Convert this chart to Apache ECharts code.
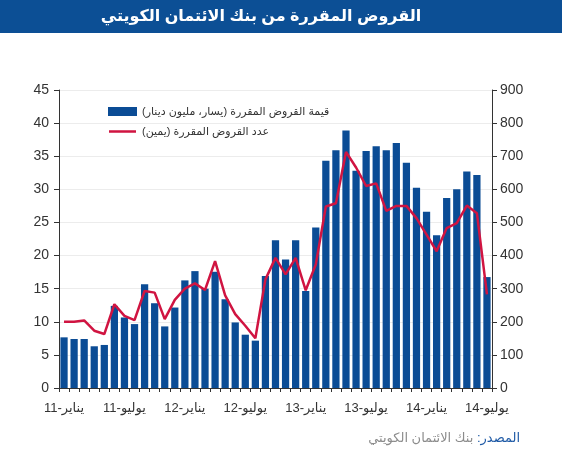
<!DOCTYPE html>
<html>
<head>
<meta charset="utf-8">
<script src="https://cdn.jsdelivr.net/npm/echarts@6/dist/echarts.min.js"></script>
<style>
html,body{margin:0;padding:0;background:#fff;}
#c{width:562px;height:450px;direction:rtl;}
</style>
</head>
<body>
<div id="c"></div>
<script>
var monthNames = ["يناير","فبراير","مارس","أبريل","مايو","يونيو","يوليو","أغسطس","سبتمبر","أكتوبر","نوفمبر","ديسمبر"];
var categories = [];
for (var y = 11; y <= 14; y++) {
  for (var m = 0; m < 12; m++) {
    if (y === 14 && m > 6) break;
    categories.push(monthNames[m] + "-" + y);
  }
}
var loanValue = [7.65,7.4,7.4,6.3,6.5,12.4,10.65,9.65,15.65,12.8,9.3,12.15,16.25,17.65,15.0,17.55,13.4,9.9,8.05,7.15,16.9,22.3,19.4,22.3,14.65,24.25,34.3,35.9,38.9,32.8,35.8,36.5,35.9,37.0,34.0,30.25,26.6,23.05,28.7,30.0,32.7,32.15,16.75];
var loanCount = [200,200,204,173,163,253,218,205,293,288,208,266,300,316,296,383,280,223,188,150,328,393,343,393,295,373,548,558,713,666,610,618,535,550,550,513,463,413,483,498,551,528,283];
var leftTicks = {min:0, max:45, interval:5};
var rightTicks = {min:0, max:900, interval:100};
var titleText = "القروض المقررة من بنك الائتمان الكويتي";
var seriesNames = ["قيمة القروض المقررة (يسار، مليون دينار)", "عدد القروض المقررة (يمين)"];
var sourceLabel = "المصدر: ";
var sourceText = "بنك الائتمان الكويتي";

var FONT = "Arial, 'Liberation Sans', 'DejaVu Sans', sans-serif";
var chart = echarts.init(document.getElementById('c'), null, {renderer:'canvas'});
chart.setOption({
  animation:false,
  backgroundColor:'#fff',
  textStyle:{fontFamily:FONT},
  graphic:[
    {type:'rect', left:0, top:0, shape:{width:562, height:33}, style:{fill:'#0c4f95'}, z:10},
    {type:'text', x:261, y:17, style:{text:titleText, fill:'#fff', font:"bold 16px " + FONT, align:'center', verticalAlign:'middle'}, z:11},
    {type:'text', x:520, y:438, style:{
      text:'{g|' + sourceText + '}{b|' + sourceLabel + '}',
      align:'right', verticalAlign:'middle',
      rich:{
        g:{fill:'#8c8c8c', fontSize:13, fontFamily:FONT},
        b:{fill:'#1f5aa6', fontSize:13, fontFamily:FONT}
      }
    }}
  ],
  legend:{
    left:103, top:101, orient:'vertical', itemGap:9,
    itemWidth:29, itemHeight:9,
    textStyle:{fontSize:11, color:'#333', fontFamily:FONT},
    data:[
      {name:seriesNames[0], icon:'rect'},
      {name:seriesNames[1], icon:'path://M0,0 M0,10 M0,3.6 L30,3.6 L30,6.4 L0,6.4 Z'}
    ]
  },
  grid:{left:59, right:70, top:90, bottom:62},
  xAxis:{
    type:'category', data:categories,
    axisLine:{lineStyle:{color:'#333', width:1}},
    axisTick:{show:true, interval:0, length:4, lineStyle:{color:'#333'}},
    axisLabel:{
      interval:function(i){return i % 6 === 0;},
      fontSize:13, color:'#333', margin:14, fontFamily:FONT
    }
  },
  yAxis:[
    {type:'value', min:leftTicks.min, max:leftTicks.max, interval:leftTicks.interval,
     axisLine:{show:true, lineStyle:{color:'#333'}},
     axisTick:{show:true, length:5, lineStyle:{color:'#333'}},
     axisLabel:{fontSize:14, color:'#333', margin:10, fontFamily:FONT},
     splitLine:{show:true, lineStyle:{color:'#ececec'}}},
    {type:'value', min:rightTicks.min, max:rightTicks.max, interval:rightTicks.interval, position:'right',
     axisLine:{show:true, lineStyle:{color:'#333'}},
     axisTick:{show:true, length:5, lineStyle:{color:'#333'}},
     axisLabel:{fontSize:14, color:'#333', margin:8, fontFamily:FONT},
     splitLine:{show:false}}
  ],
  series:[
    {name:seriesNames[0], type:'bar', data:loanValue, yAxisIndex:0, barCategoryGap:'28%',
     itemStyle:{color:'#0b4c95'}},
    {name:seriesNames[1], type:'line', data:loanCount, yAxisIndex:1, symbol:'none',
     lineStyle:{color:'#d01441', width:2.5}, itemStyle:{color:'#d01441'}, z:5}
  ]
});
</script>
</body>
</html>
